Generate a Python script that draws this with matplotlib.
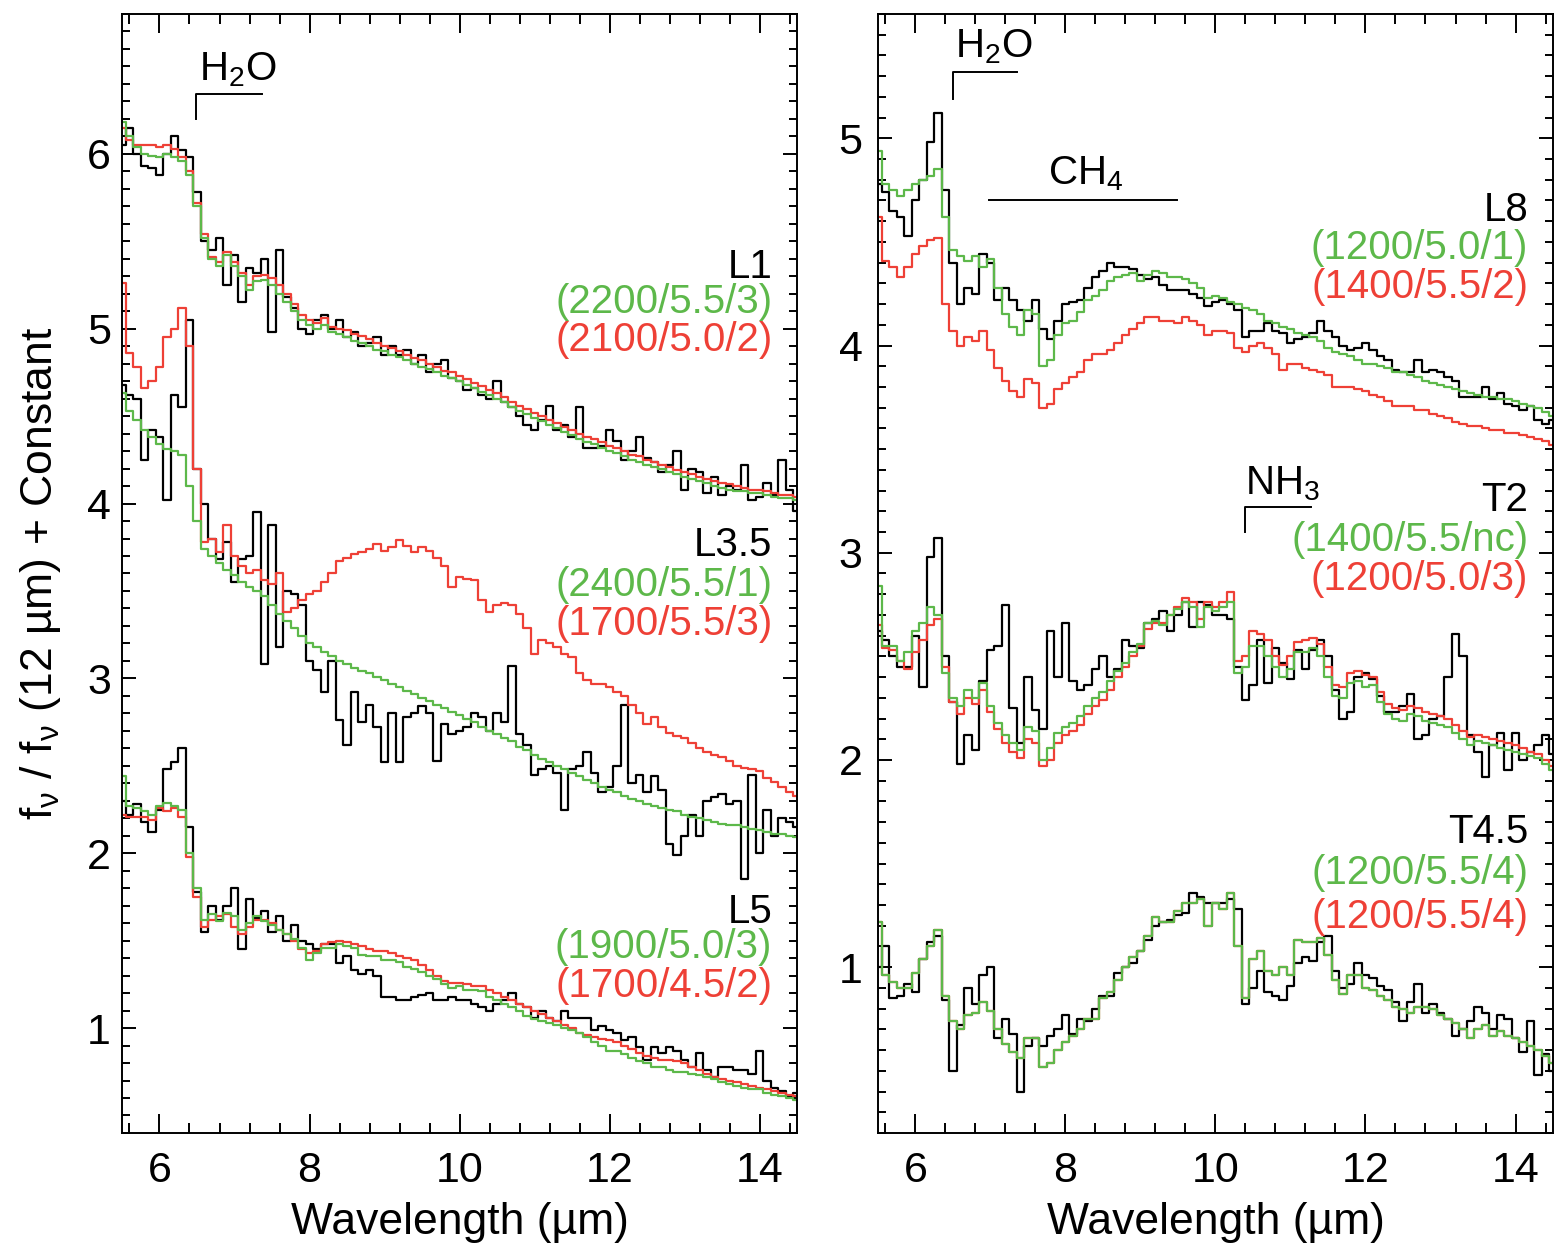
import numpy as np
import matplotlib.pyplot as plt
from matplotlib.ticker import MultipleLocator

plt.rcParams['font.family'] = ['Liberation Sans', 'DejaVu Sans']
plt.rcParams['mathtext.fontset'] = 'custom'
plt.rcParams['mathtext.rm'] = 'Liberation Sans'
plt.rcParams['mathtext.it'] = 'Liberation Sans:italic'
plt.rcParams['mathtext.default'] = 'regular'

GREEN = '#5DB84A'
RED = '#EE4036'

# wavelength grid (um), 5.5 .. 14.5
wave = np.round(np.arange(5.5, 14.55, 0.1), 1)

# ---------------- left panel ----------------
l1_obs = [6.05, 6.15, 6.00, 5.93, 5.92, 5.88, 6.00, 6.10, 6.02, 5.98,
          5.78, 5.50, 5.45, 5.52, 5.25, 5.42, 5.15, 5.35, 5.32, 5.40,
          4.98, 5.45, 5.18, 5.12, 5.00, 4.97, 5.05, 5.08, 5.00, 5.05,
          4.95, 4.98, 4.90, 4.92, 4.95, 4.85, 4.90, 4.85, 4.88, 4.80,
          4.85, 4.75, 4.80, 4.82, 4.72, 4.70, 4.65, 4.66, 4.62, 4.60,
          4.70, 4.58, 4.55, 4.50, 4.45, 4.42, 4.48, 4.56, 4.42, 4.45,
          4.38, 4.55, 4.32, 4.32, 4.33, 4.42, 4.36, 4.25, 4.30, 4.38,
          4.26, 4.24, 4.18, 4.22, 4.30, 4.08, 4.20, 4.18, 4.06, 4.15,
          4.05, 4.10, 4.08, 4.22, 4.02, 4.04, 4.12, 4.05, 4.25, 4.08,
          3.96]
l1_green = [6.18, 6.10, 6.04, 6.00, 5.99, 5.98, 6.00, 5.98, 5.96, 5.88,
            5.70, 5.52, 5.40, 5.36, 5.42, 5.36, 5.30, 5.22, 5.27, 5.28,
            5.25, 5.20, 5.15, 5.10, 5.05, 5.02, 5.00, 5.02, 4.98, 4.97,
            4.95, 4.93, 4.92, 4.90, 4.88, 4.87, 4.85, 4.84, 4.82, 4.80,
            4.78, 4.77, 4.75, 4.73, 4.72, 4.70, 4.68, 4.66, 4.64, 4.62,
            4.60, 4.58, 4.55, 4.53, 4.51, 4.49, 4.47, 4.45, 4.43, 4.41,
            4.39, 4.37, 4.35, 4.34, 4.32, 4.30, 4.29, 4.27, 4.25, 4.24,
            4.22, 4.21, 4.20, 4.18, 4.17, 4.15, 4.14, 4.13, 4.12, 4.10,
            4.09, 4.08, 4.07, 4.07, 4.06, 4.06, 4.05, 4.04, 4.03, 4.03,
            4.02]
l1_red = [6.15, 6.08, 6.05, 6.05, 6.05, 6.04, 6.05, 6.03, 5.98, 5.90,
          5.72, 5.54, 5.41, 5.38, 5.44, 5.38, 5.32, 5.25, 5.30, 5.31,
          5.29, 5.25, 5.20, 5.14, 5.08, 5.05, 5.03, 5.06, 5.01, 5.00,
          4.99, 4.97, 4.96, 4.94, 4.92, 4.90, 4.89, 4.87, 4.85, 4.83,
          4.82, 4.80, 4.78, 4.76, 4.75, 4.73, 4.71, 4.69, 4.67, 4.65,
          4.63, 4.61, 4.58, 4.56, 4.54, 4.52, 4.50, 4.48, 4.46, 4.44,
          4.42, 4.40, 4.38, 4.37, 4.35, 4.33, 4.32, 4.30, 4.28, 4.27,
          4.25, 4.24, 4.22, 4.21, 4.19, 4.18, 4.17, 4.15, 4.14, 4.13,
          4.12, 4.11, 4.10, 4.09, 4.08, 4.08, 4.07, 4.06, 4.05, 4.05,
          4.04]

l35_obs = [4.68, 4.62, 4.60, 4.25, 4.42, 4.38, 4.02, 4.62, 4.55, 5.05,
           4.20, 4.00, 3.80, 3.68, 3.78, 3.55, 3.68, 3.70, 3.95, 3.08,
           3.88, 3.18, 3.50, 3.48, 3.42, 3.10, 3.05, 2.92, 3.10, 2.76,
           2.62, 2.92, 2.75, 2.85, 2.72, 2.52, 2.80, 2.52, 2.78, 2.80,
           2.84, 2.80, 2.53, 2.74, 2.68, 2.70, 2.72, 2.80, 2.78, 2.70,
           2.80, 2.75, 3.07, 2.68, 2.62, 2.45, 2.48, 2.50, 2.46, 2.25,
           2.48, 2.50, 2.58, 2.46, 2.35, 2.38, 2.50, 2.85, 2.40, 2.45,
           2.35, 2.44, 2.36, 2.05, 1.99, 2.10, 2.22, 2.10, 2.30, 2.32,
           2.34, 2.28, 2.30, 1.85, 2.45, 2.00, 2.25, 2.10, 2.20, 2.18,
           2.15]
l35_green = [4.63, 4.53, 4.48, 4.42, 4.38, 4.34, 4.31, 4.30, 4.28, 4.10,
             3.90, 3.74, 3.70, 3.66, 3.62, 3.59, 3.55, 3.52, 3.50, 3.47,
             3.42, 3.37, 3.33, 3.29, 3.24, 3.20, 3.18, 3.15, 3.13, 3.10,
             3.08, 3.06, 3.04, 3.03, 3.01, 2.99, 2.97, 2.95, 2.93, 2.91,
             2.89, 2.87, 2.85, 2.83, 2.81, 2.79, 2.77, 2.75, 2.72, 2.70,
             2.68, 2.66, 2.64, 2.61, 2.59, 2.56, 2.54, 2.52, 2.50, 2.48,
             2.46, 2.44, 2.42, 2.40, 2.38, 2.36, 2.35, 2.33, 2.31, 2.30,
             2.28, 2.27, 2.26, 2.25, 2.24, 2.22, 2.21, 2.20, 2.19, 2.18,
             2.17, 2.16, 2.16, 2.15, 2.14, 2.13, 2.12, 2.11, 2.11, 2.10,
             2.09]
l35_red = [5.26, 4.86, 4.78, 4.66, 4.70, 4.78, 4.95, 5.00, 5.12, 4.90,
           4.20, 3.78, 3.80, 3.72, 3.88, 3.70, 3.64, 3.60, 3.62, 3.56,
           3.54, 3.60, 3.38, 3.40, 3.45, 3.48, 3.50, 3.55, 3.60, 3.67,
           3.69, 3.71, 3.72, 3.74, 3.77, 3.73, 3.75, 3.79, 3.76, 3.72,
           3.75, 3.73, 3.69, 3.64, 3.52, 3.58, 3.57, 3.56, 3.45, 3.38,
           3.42, 3.43, 3.42, 3.37, 3.29, 3.14, 3.22, 3.20, 3.18, 3.14,
           3.12, 3.03, 2.99, 2.97, 2.97, 2.95, 2.92, 2.90, 2.85, 2.80,
           2.74, 2.78, 2.72, 2.69, 2.67, 2.66, 2.63, 2.60, 2.58, 2.56,
           2.55, 2.53, 2.50, 2.49, 2.48, 2.47, 2.43, 2.41, 2.38, 2.35,
           2.33]

l5_obs = [2.30, 2.22, 2.28, 2.18, 2.12, 2.25, 2.48, 2.52, 2.60, 2.15,
          1.78, 1.55, 1.70, 1.62, 1.70, 1.80, 1.45, 1.74, 1.63, 1.67,
          1.55, 1.64, 1.50, 1.59, 1.50, 1.48, 1.45, 1.48, 1.48, 1.37,
          1.41, 1.33, 1.31, 1.33, 1.30, 1.18, 1.18, 1.16, 1.16, 1.18,
          1.19, 1.20, 1.16, 1.16, 1.18, 1.16, 1.16, 1.14, 1.12, 1.10,
          1.14, 1.16, 1.20, 1.14, 1.12, 1.06, 1.10, 1.06, 1.04, 1.10,
          1.06, 1.06, 1.06, 0.99, 1.01, 0.99, 0.97, 0.93, 0.95, 0.89,
          0.82, 0.89, 0.86, 0.89, 0.87, 0.82, 0.78, 0.86, 0.76, 0.72,
          0.78, 0.78, 0.76, 0.76, 0.74, 0.87, 0.70, 0.66, 0.64, 0.61,
          0.63]
l5_green = [2.44, 2.27, 2.26, 2.24, 2.22, 2.27, 2.29, 2.27, 2.25, 2.00,
            1.80, 1.62, 1.65, 1.61, 1.66, 1.64, 1.56, 1.60, 1.64, 1.61,
            1.59, 1.56, 1.54, 1.51, 1.46, 1.39, 1.43, 1.46, 1.46, 1.48,
            1.47, 1.46, 1.42, 1.41, 1.41, 1.39, 1.39, 1.38, 1.35, 1.34,
            1.32, 1.30, 1.28, 1.25, 1.23, 1.24, 1.22, 1.22, 1.21, 1.18,
            1.16, 1.14, 1.12, 1.10, 1.07, 1.05, 1.04, 1.03, 1.02, 1.00,
            0.99, 0.97, 0.95, 0.92, 0.90, 0.87, 0.87, 0.85, 0.83, 0.81,
            0.80, 0.78, 0.78, 0.76, 0.75, 0.75, 0.74, 0.73, 0.72, 0.71,
            0.69, 0.68, 0.67, 0.66, 0.65, 0.65, 0.63, 0.62, 0.61, 0.60,
            0.59]
l5_red = [2.22, 2.21, 2.21, 2.21, 2.19, 2.26, 2.24, 2.26, 2.21, 1.98,
          1.75, 1.58, 1.62, 1.64, 1.65, 1.58, 1.54, 1.58, 1.62, 1.62,
          1.60, 1.56, 1.54, 1.50, 1.45, 1.43, 1.44, 1.48, 1.49, 1.50,
          1.49, 1.48, 1.47, 1.45, 1.44, 1.44, 1.43, 1.41, 1.40, 1.39,
          1.36, 1.33, 1.30, 1.27, 1.26, 1.26, 1.25, 1.24, 1.24, 1.22,
          1.20, 1.18, 1.16, 1.14, 1.12, 1.10, 1.08, 1.06, 1.04, 1.02,
          1.00, 0.97, 0.96, 0.95, 0.94, 0.93, 0.92, 0.90, 0.88, 0.86,
          0.84, 0.83, 0.82, 0.82, 0.81, 0.80, 0.78, 0.76, 0.74, 0.72,
          0.71, 0.70, 0.69, 0.68, 0.67, 0.66, 0.65, 0.64, 0.63, 0.62,
          0.61]

# ---------------- right panel ----------------
l8_obs = [4.78, 4.74, 4.65, 4.62, 4.53, 4.70, 4.80, 4.98, 5.12, 4.75,
          4.40, 4.20, 4.28, 4.25, 4.44, 4.40, 4.22, 4.28, 4.22, 4.17,
          4.12, 4.22, 4.08, 4.03, 4.12, 4.20, 4.21, 4.22, 4.28, 4.33,
          4.36, 4.40, 4.38, 4.38, 4.37, 4.34, 4.32, 4.33, 4.29, 4.27,
          4.27, 4.27, 4.25, 4.23, 4.19, 4.21, 4.22, 4.20, 4.17, 4.04,
          4.07, 4.07, 4.11, 4.07, 4.06, 4.01, 4.03, 4.04, 4.06, 4.12,
          4.07, 4.04, 4.00, 3.98, 3.99, 4.01, 3.98, 3.95, 3.93, 3.88,
          3.87, 3.87, 3.93, 3.87, 3.88, 3.87, 3.85, 3.83, 3.75, 3.75,
          3.75, 3.80, 3.74, 3.77, 3.72, 3.71, 3.69, 3.71, 3.64, 3.62,
          3.64]
l8_green = [4.94, 4.78, 4.75, 4.72, 4.75, 4.78, 4.80, 4.82, 4.85, 4.62,
            4.46, 4.43, 4.41, 4.43, 4.38, 4.42, 4.28, 4.15, 4.09, 4.05,
            4.17, 4.15, 3.90, 3.93, 4.05, 4.11, 4.12, 4.16, 4.22, 4.24,
            4.27, 4.31, 4.33, 4.34, 4.35, 4.31, 4.34, 4.36, 4.35, 4.33,
            4.33, 4.32, 4.30, 4.28, 4.23, 4.24, 4.23, 4.21, 4.20, 4.18,
            4.17, 4.15, 4.12, 4.11, 4.09, 4.08, 4.06, 4.05, 4.04, 4.02,
            3.99, 3.97, 3.96, 3.95, 3.93, 3.91, 3.91, 3.90, 3.89, 3.87,
            3.87, 3.86, 3.85, 3.83, 3.82, 3.81, 3.80, 3.79, 3.78, 3.77,
            3.76, 3.75, 3.75, 3.74, 3.74, 3.73, 3.72, 3.71, 3.70, 3.68,
            3.66]
l8_red = [4.62, 4.41, 4.38, 4.33, 4.38, 4.44, 4.48, 4.51, 4.52, 4.20,
          4.07, 4.00, 4.04, 4.02, 4.07, 3.98, 3.89, 3.83, 3.78, 3.75,
          3.84, 3.82, 3.70, 3.72, 3.79, 3.82, 3.85, 3.87, 3.93, 3.96,
          3.96, 3.98, 4.01, 4.05, 4.08, 4.11, 4.14, 4.14, 4.12, 4.12,
          4.11, 4.14, 4.12, 4.10, 4.05, 4.07, 4.07, 4.06, 3.99, 3.97,
          4.00, 4.01, 3.99, 3.96, 3.88, 3.91, 3.91, 3.89, 3.88, 3.87,
          3.86, 3.80, 3.80, 3.80, 3.79, 3.78, 3.76, 3.75, 3.73, 3.71,
          3.71, 3.71, 3.69, 3.69, 3.67, 3.66, 3.65, 3.63, 3.62, 3.61,
          3.61, 3.60, 3.59, 3.59, 3.58, 3.58, 3.57, 3.56, 3.55, 3.54,
          3.52]

t2_obs = [2.62, 2.58, 2.50, 2.45, 2.45, 2.60, 2.35, 2.98, 3.07, 2.50,
          2.28, 1.98, 2.12, 2.05, 2.38, 2.53, 2.55, 2.75, 2.25, 2.08,
          2.40, 2.24, 2.15, 2.62, 2.40, 2.66, 2.38, 2.34, 2.36, 2.44,
          2.50, 2.40, 2.44, 2.58, 2.55, 2.54, 2.66, 2.68, 2.72, 2.62,
          2.70, 2.76, 2.64, 2.76, 2.75, 2.70, 2.70, 2.68, 2.45, 2.29,
          2.36, 2.58, 2.37, 2.54, 2.47, 2.39, 2.53, 2.44, 2.53, 2.58,
          2.50, 2.34, 2.20, 2.23, 2.40, 2.42, 2.39, 2.31, 2.23, 2.23,
          2.26, 2.32, 2.10, 2.12, 2.20, 2.21, 2.40, 2.61, 2.50, 2.12,
          2.04, 1.92, 2.07, 2.13, 1.95, 2.13, 2.00, 2.04, 2.07, 2.12,
          2.03]
t2_green = [2.84, 2.55, 2.55, 2.48, 2.52, 2.62, 2.66, 2.74, 2.70, 2.42,
            2.30, 2.26, 2.34, 2.30, 2.37, 2.26, 2.18, 2.12, 2.08, 2.05,
            2.16, 2.14, 2.00, 2.06, 2.13, 2.16, 2.18, 2.21, 2.26, 2.30,
            2.33, 2.38, 2.43, 2.47, 2.52, 2.56, 2.66, 2.67, 2.65, 2.70,
            2.73, 2.76, 2.74, 2.64, 2.74, 2.72, 2.74, 2.76, 2.42, 2.45,
            2.55, 2.55, 2.50, 2.45, 2.40, 2.44, 2.52, 2.52, 2.54, 2.50,
            2.40, 2.31, 2.30, 2.37, 2.38, 2.35, 2.36, 2.28, 2.22, 2.20,
            2.19, 2.22, 2.21, 2.19, 2.18, 2.17, 2.16, 2.13, 2.10, 2.07,
            2.09, 2.08, 2.07, 2.06, 2.05, 2.04, 2.03, 2.02, 2.01, 1.98,
            1.95]
t2_red = [2.65, 2.54, 2.53, 2.48, 2.44, 2.52, 2.58, 2.65, 2.68, 2.45,
          2.28, 2.22, 2.30, 2.27, 2.34, 2.23, 2.15, 2.08, 2.04, 2.01,
          2.10, 2.08, 1.97, 2.00, 2.08, 2.12, 2.14, 2.17, 2.22, 2.26,
          2.29, 2.34, 2.40, 2.45, 2.50, 2.55, 2.63, 2.66, 2.66, 2.70,
          2.74, 2.78, 2.76, 2.68, 2.76, 2.74, 2.76, 2.81, 2.48, 2.50,
          2.62, 2.61, 2.58, 2.50, 2.46, 2.50, 2.57, 2.58, 2.59, 2.56,
          2.45, 2.36, 2.35, 2.42, 2.43, 2.41, 2.40, 2.33, 2.27, 2.25,
          2.24, 2.26, 2.25, 2.23, 2.22, 2.21, 2.20, 2.17, 2.14, 2.11,
          2.12, 2.11, 2.10, 2.09, 2.08, 2.07, 2.06, 2.04, 2.03, 2.00,
          1.97]

t45_obs = [1.00, 1.10, 0.85, 0.86, 0.92, 0.88, 1.04, 1.12, 1.15, 0.84,
           0.50, 0.72, 0.90, 0.82, 0.96, 1.00, 0.66, 0.75, 0.68, 0.40,
           0.62, 0.66, 0.62, 0.67, 0.70, 0.77, 0.68, 0.75, 0.74, 0.80,
           0.86, 0.86, 0.97, 1.00, 1.02, 1.08, 1.13, 1.20, 1.22, 1.23,
           1.25, 1.26, 1.36, 1.34, 1.31, 1.31, 1.31, 1.33, 1.28, 0.82,
           0.90, 0.98, 0.88, 0.86, 0.84, 0.91, 1.02, 1.05, 1.03, 1.12,
           1.15, 0.98, 0.90, 0.92, 1.02, 0.96, 0.95, 0.91, 0.89, 0.83,
           0.74, 0.83, 0.92, 0.78, 0.82, 0.78, 0.75, 0.67, 0.70, 0.74,
           0.81, 0.78, 0.70, 0.77, 0.75, 0.66, 0.59, 0.74, 0.48, 0.58,
           0.50]
t45_green = [1.22, 0.96, 0.93, 0.90, 0.90, 0.97, 1.04, 1.10, 1.18, 0.86,
             0.74, 0.70, 0.77, 0.78, 0.83, 0.79, 0.70, 0.63, 0.59, 0.56,
             0.66, 0.66, 0.52, 0.54, 0.60, 0.64, 0.67, 0.70, 0.75, 0.75,
             0.85, 0.88, 0.94, 1.00, 1.05, 1.08, 1.15, 1.24, 1.22, 1.22,
             1.27, 1.31, 1.31, 1.33, 1.20, 1.31, 1.28, 1.36, 1.10, 0.85,
             1.04, 1.08, 0.98, 0.96, 1.00, 0.96, 1.13, 1.12, 1.12, 1.14,
             1.06, 0.94, 0.87, 0.96, 0.96, 0.90, 0.89, 0.86, 0.84, 0.81,
             0.80, 0.78, 0.81, 0.81, 0.80, 0.77, 0.75, 0.73, 0.70, 0.66,
             0.70, 0.72, 0.67, 0.69, 0.67, 0.66, 0.64, 0.62, 0.60, 0.57,
             0.54]
# both fits for T4.5 are the same model (1200/5.5/4)
t45_red = list(t45_green)

left_sets = [
    (l1_obs, l1_green, l1_red, 'L1', '(2200/5.5/3)', '(2100/5.0/2)', (5.29, 5.09, 4.87)),
    (l35_obs, l35_green, l35_red, 'L3.5', '(2400/5.5/1)', '(1700/5.5/3)', (3.70, 3.47, 3.25)),
    (l5_obs, l5_green, l5_red, 'L5', '(1900/5.0/3)', '(1700/4.5/2)', (1.60, 1.40, 1.18)),
]
right_sets = [
    (l8_obs, l8_green, l8_red, 'L8', '(1200/5.0/1)', '(1400/5.5/2)', (4.60, 4.42, 4.23)),
    (t2_obs, t2_green, t2_red, 'T2', '(1400/5.5/nc)', '(1200/5.0/3)', (3.20, 3.01, 2.82)),
    (t45_obs, t45_green, t45_red, 'T4.5', '(1200/5.5/4)', '(1200/5.5/4)', (1.60, 1.40, 1.19)),
]

fig = plt.figure(figsize=(15.58, 12.49), dpi=100)
ax1 = fig.add_axes([0.0783, 0.0929, 0.4333, 0.8959])
ax2 = fig.add_axes([0.5635, 0.0929, 0.4333, 0.8959])

FS = 29       # in-panel text
TICK_FS = 31  # tick labels
LAB_FS = 32   # axis titles


def draw_panel(ax, sets, ylim, ypad):
    for obs, grn, red, name, gtxt, rtxt, ys in sets:
        ax.step(wave, obs, where='mid', color='black', lw=1.6)
        ax.step(wave, red, where='mid', color=RED, lw=1.6)
        ax.step(wave, grn, where='mid', color=GREEN, lw=1.6)
        ax.text(14.17, ys[0], name, ha='right', va='baseline', fontsize=FS, color='black')
        ax.text(14.17, ys[1], gtxt, ha='right', va='baseline', fontsize=FS, color=GREEN)
        ax.text(14.17, ys[2], rtxt, ha='right', va='baseline', fontsize=FS, color=RED)
    ax.set_xlim(5.5, 14.5)
    ax.set_ylim(*ylim)
    ax.xaxis.set_major_locator(MultipleLocator(2))
    ax.xaxis.set_minor_locator(MultipleLocator(0.4))
    ax.yaxis.set_major_locator(MultipleLocator(1))
    ax.yaxis.set_minor_locator(MultipleLocator(0.1))
    ax.tick_params(which='both', direction='in', top=True, right=True, width=1.4)
    ax.tick_params(axis='x', which='major', length=14, pad=13, labelsize=TICK_FS)
    ax.tick_params(axis='x', which='minor', length=7)
    ax.tick_params(axis='y', which='major', length=10, pad=ypad, labelsize=TICK_FS)
    ax.tick_params(axis='y', which='minor', length=5.5)
    for sp in ax.spines.values():
        sp.set_linewidth(1.4)
    ax.text(0.5, -0.08, 'Wavelength (µm)', transform=ax.transAxes,
            ha='center', va='center', fontsize=LAB_FS)


draw_panel(ax1, left_sets, (0.4, 6.8), 8)
draw_panel(ax2, right_sets, (0.2, 5.6), 11)

# band markers, left panel
ax1.plot([6.49, 6.49, 7.36], [6.20, 6.34, 6.34], color='black', lw=1.4)
ax1.text(6.52, 6.42, r'H$_2$O', ha='left', va='baseline', fontsize=FS)

# band markers, right panel
ax2.plot([6.50, 6.50, 7.36], [5.19, 5.32, 5.32], color='black', lw=1.4)
ax2.text(6.53, 5.39, r'H$_2$O', ha='left', va='baseline', fontsize=FS)
ax2.plot([6.98, 9.49], [4.70, 4.70], color='black', lw=1.4)
ax2.text(7.77, 4.78, r'CH$_4$', ha='left', va='baseline', fontsize=FS)
ax2.plot([10.40, 10.40, 11.27], [3.10, 3.22, 3.22], color='black', lw=1.4)
ax2.text(10.40, 3.28, r'NH$_3$', ha='left', va='baseline', fontsize=FS)

fig.text(0.026, 0.541, r'f$_{ν}$ / f$_{ν}$ (12 µm) + Constant', rotation=90,
         ha='center', va='center', fontsize=LAB_FS)

fig.savefig('out.png', dpi=100)
